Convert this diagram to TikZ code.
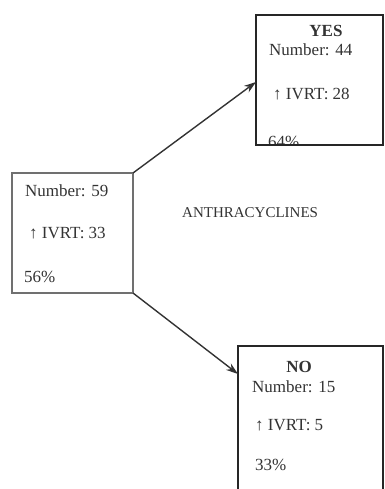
\documentclass[tikz,border=0pt]{standalone}
\usepackage{fontspec}
\setmainfont{Liberation Serif}
\usetikzlibrary{arrows.meta}
\definecolor{txt}{HTML}{333333}
\definecolor{lbox}{HTML}{707070}
\tikzset{
  lbl/.style={anchor=base west, inner sep=0pt, text=txt, font=\fontsize{17}{17}\selectfont},
  ttl/.style={anchor=base, inner sep=0pt, text=txt, font=\fontsize{17}{17}\selectfont\bfseries},
  mainbox/.style={draw=lbox, line width=1.3pt},
  outbox/.style={draw=black!85, line width=2pt},
  conn/.style={draw=black!80, line width=1.4pt, -{Stealth[length=12pt,width=8pt]}}
}
\begin{document}
\begin{tikzpicture}[x=1pt,y=-1pt]
\useasboundingbox (0,0) rectangle (384,489);
% boxes as coordinates
\coordinate (Lnw) at (12,173);
\coordinate (Lse) at (133,293);
\coordinate (Ynw) at (256,15);
\coordinate (Yse) at (383,145);
\coordinate (Nnw) at (238,346);
\coordinate (Nse) at (383,500);
% left box
\node[lbl] (l1) at (25,196) {Number: 59};
\node[lbl] (l2) at (29,238) {↑ IVRT: 33};
\node[lbl] (l3) at (24,282) {56\%};
\draw[mainbox] (Lnw) rectangle (Lse);
% YES box
\begin{scope}
\clip (Ynw) rectangle (Yse);
\node[ttl] (y0) at (326,37) {YES};
\node[lbl] (y1) at (269,56) {Number: 44};
\node[lbl] (y2) at (273,100) {↑ IVRT: 28};
\node[lbl] (y3) at (268,147) {64\%};
\end{scope}
\draw[outbox] (Ynw) rectangle (Yse);
% NO box
\node[ttl] (n0) at (299,372) {NO};
\node[lbl] (n1) at (252,392) {Number: 15};
\node[lbl] (n2) at (255,430) {↑ IVRT: 5};
\node[lbl] (n3) at (255,470) {33\%};
\draw[outbox] (Nnw) rectangle (Nse);
% label
\node[anchor=base west, inner sep=0pt, text=txt, font=\fontsize{15}{15}\selectfont] (ant) at (182,217) {ANTHRACYCLINES};
% connectors
\coordinate (Lne) at (Lse |- Lnw);
\coordinate (Yin) at (256,82);
\coordinate (Nin) at (238,374);
\draw[conn] (Lne) -- (Yin);
\draw[conn] (Lse) -- (Nin);
\end{tikzpicture}
\end{document}
